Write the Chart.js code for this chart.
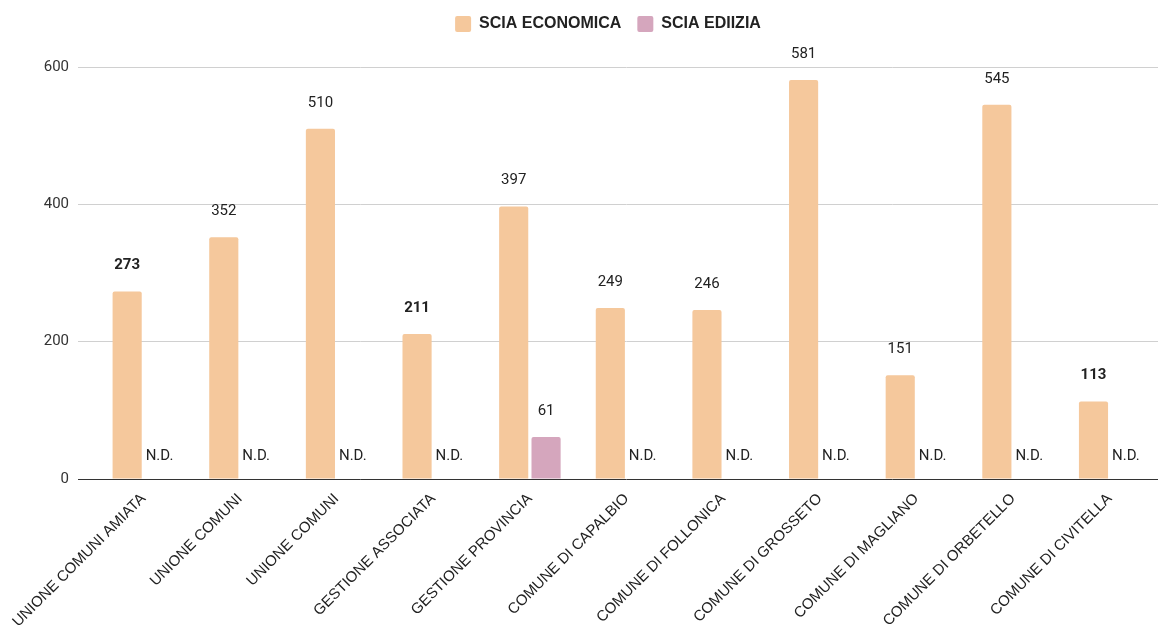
<!DOCTYPE html>
<html>
<head>
<meta charset="utf-8">
<script src="https://cdn.jsdelivr.net/npm/chart.js@4/dist/chart.umd.min.js"></script>
<style>
  html, body { margin: 0; padding: 0; background: #fff; }
  #wrap { width: 1161px; height: 625px; }
</style>
</head>
<body>
<div id="wrap"><canvas id="my-chart"></canvas></div>
<script>
let categories = [
  "UNIONE COMUNI AMIATA", "UNIONE COMUNI", "UNIONE COMUNI", "GESTIONE ASSOCIATA",
  "GESTIONE PROVINCIA", "COMUNE DI CAPALBIO", "COMUNE DI FOLLONICA", "COMUNE DI GROSSETO",
  "COMUNE DI MAGLIANO", "COMUNE DI ORBETELLO", "COMUNE DI CIVITELLA"
];
let sciaEconomica = [273, 352, 510, 211, 397, 249, 246, 581, 151, 545, 113];
let sciaEdilizia = [null, null, null, null, 61, null, null, null, null, null, null];
let yTicks = [0, 200, 400, 600];
// labels shown in bold in the original
let boldIdx = [0, 3, 10];

// draws value labels above bars and "N.D." where a value is missing
const valueLabels = {
  id: "valueLabels",
  afterDatasetsDraw(chart) {
    const ctx = chart.ctx;
    const yScale = chart.scales.y;
    ctx.save();
    ctx.textAlign = "center";
    ctx.fillStyle = "#222";
    chart.data.datasets.forEach((ds, di) => {
      const meta = chart.getDatasetMeta(di);
      meta.data.forEach((bar, i) => {
        const v = ds.data[i];
        if (v === null) {
          ctx.font = "15px Roboto";
          ctx.textBaseline = "alphabetic";
          ctx.fillText("N.D.", bar.x, yScale.getPixelForValue(0) - 19);
        } else {
          const bold = di === 0 && boldIdx.includes(i);
          ctx.font = (bold ? "bold " : "") + "15px Roboto";
          ctx.textBaseline = "middle";
          ctx.fillText(String(v), bar.x, bar.y - 26);
        }
      });
    });
    ctx.restore();
  }
};

// extra room below the legend, and legend nudged right like the original
const legendSpace = {
  id: "legendSpace",
  beforeInit(chart) {
    const fit = chart.legend.fit;
    chart.legend.fit = function () {
      fit.bind(chart.legend)();
      this.height += 25;
    };
  },
  afterLayout(chart) {
    chart.legend.left += 29;
    chart.legend.right += 29;
  }
};

let userChart = new Chart(document.getElementById("my-chart").getContext("2d"), {
  type: "bar",
  data: {
    labels: categories,
    datasets: [
      {
        label: "SCIA ECONOMICA",
        data: sciaEconomica,
        backgroundColor: "#f5c89c",
        borderRadius: 2,
        borderSkipped: "start",
        barPercentage: 0.9,
        categoryPercentage: 0.67,
      },
      {
        label: "SCIA EDIIZIA",
        data: sciaEdilizia,
        backgroundColor: "#d5a6bd",
        borderRadius: 2,
        borderSkipped: "start",
        barPercentage: 0.9,
        categoryPercentage: 0.67,
      },
    ],
  },
  options: {
    responsive: true,
    maintainAspectRatio: false,
    animation: false,
    layout: { padding: { top: 0, right: 3, left: 0, bottom: 0 } },
    plugins: {
      legend: {
        position: "top",
        align: "center",
        labels: {
          boxWidth: 16,
          boxHeight: 16,
          useBorderRadius: true,
          borderRadius: 2,
          padding: 16,
          color: "#222",
          font: { family: "'Liberation Sans', Arial", size: 16, weight: "bold" },
        },
      },
      tooltip: { enabled: false },
    },
    scales: {
      x: {
        grid: { display: false, drawTicks: false },
        border: { display: false },
        ticks: {
          autoSkip: false,
          maxRotation: 45,
          minRotation: 45,
          padding: 11,
          color: "#222",
          font: { family: "'Liberation Sans', Arial", size: 15 },
        },
        afterFit: (axis) => { axis.height = 146; },
      },
      y: {
        min: 0,
        max: 600,
        afterBuildTicks: (axis) => { axis.ticks = yTicks.map((v) => ({ value: v })); },
        grid: {
          color: (c) => (c.tick && c.tick.value === 0 ? "#333" : "#d0d0d0"),
          lineWidth: 1,
          drawTicks: true,
          tickLength: 17,
        },
        border: { display: false },
        ticks: {
          padding: 9,
          color: "#333",
          font: { family: "Roboto", size: 15 },
        },
        afterFit: (axis) => { axis.width = 94; },
      },
    },
  },
  plugins: [valueLabels, legendSpace],
});
</script>
</body>
</html>
